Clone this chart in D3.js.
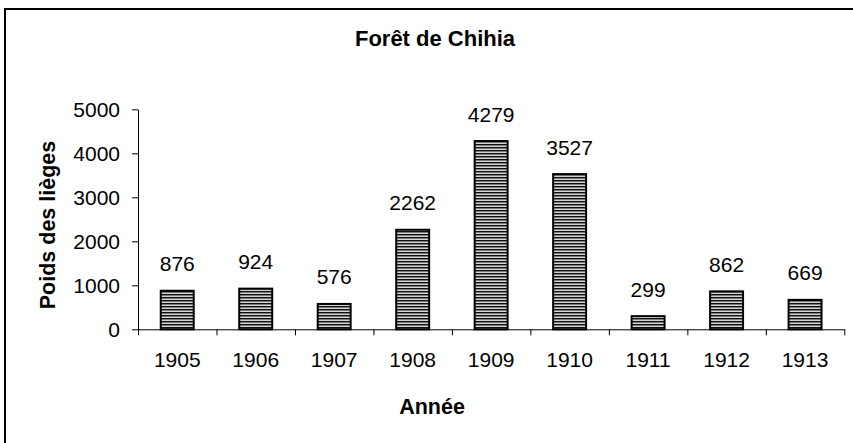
<!DOCTYPE html>
<html>
<head>
<meta charset="utf-8">
<script src="https://cdn.jsdelivr.net/npm/d3@7"></script>
<style>
  html, body { margin: 0; padding: 0; background: #fff; }
  svg { display: block; font-family: "Liberation Sans", Arial, sans-serif; }
</style>
</head>
<body>
<svg id="chart" width="853" height="443"></svg>
<script>
// Weight of cork harvested per year, Chihia forest
const years = ["1905", "1906", "1907", "1908", "1909", "1910", "1911", "1912", "1913"];
const weights = [876, 924, 576, 2262, 4279, 3527, 299, 862, 669];
const yTicks = [0, 1000, 2000, 3000, 4000, 5000];

const titleText = "Forêt de Chihia";
const xTitle = "Année";
const yTitle = "Poids des lièges";

const svg = d3.select("#chart");

// Outer frame (runs off the right and bottom edges)
svg.append("rect")
  .attr("x", 5).attr("y", 9)
  .attr("width", 900).attr("height", 500)
  .attr("fill", "none")
  .attr("stroke", "#000")
  .attr("stroke-width", 2);

// Horizontal hatch fill for the bars
const defs = svg.append("defs");
const pat = defs.append("pattern")
  .attr("id", "hatch")
  .attr("patternUnits", "userSpaceOnUse")
  .attr("width", 4).attr("height", 3);
pat.append("rect").attr("x", 0).attr("y", 0).attr("width", 4).attr("height", 1).attr("fill", "#111");
pat.append("rect").attr("x", 0).attr("y", 1).attr("width", 4).attr("height", 1).attr("fill", "#7a7a7a");
pat.append("rect").attr("x", 0).attr("y", 2).attr("width", 4).attr("height", 1).attr("fill", "#d4d4d4");

const plotLeft = 138, plotRight = 844.3, plotTop = 109.3, plotBottom = 329.3;

const x = d3.scaleBand()
  .domain(years)
  .range([plotLeft, plotRight])
  .paddingInner(0.58)
  .paddingOuter(0.29);

const xEdges = d3.scaleLinear().domain([0, years.length]).range([plotLeft, plotRight]);

const y = d3.scaleLinear().domain([0, 5000]).range([plotBottom, plotTop]);

// Y axis
const yAxis = svg.append("g")
  .attr("transform", `translate(${plotLeft},0)`)
  .call(d3.axisLeft(y).tickValues(yTicks).tickSize(6).tickSizeOuter(0).tickPadding(12).tickFormat(d3.format("d")));
yAxis.select(".domain").attr("stroke", "#000");
yAxis.selectAll(".tick line").attr("stroke", "#000");
yAxis.selectAll(".tick text")
  .attr("font-size", 21)
  .attr("font-family", "Liberation Sans, Arial, sans-serif")
  .attr("fill", "#000");

// X axis: ticks sit between categories
const xAxis = svg.append("g")
  .attr("transform", `translate(0,${plotBottom})`)
  .call(d3.axisBottom(xEdges).tickValues(d3.range(years.length + 1)).tickSize(6).tickSizeOuter(0).tickFormat(""));
xAxis.select(".domain").attr("stroke", "#000");
xAxis.selectAll(".tick line").attr("stroke", "#000");

svg.append("g").selectAll("text")
  .data(years)
  .join("text")
  .attr("x", d => x(d) + x.bandwidth() / 2)
  .attr("y", 366.5)
  .attr("text-anchor", "middle")
  .attr("font-size", 21)
  .attr("fill", "#000")
  .text(d => d);

// Bars
svg.append("g").selectAll("rect")
  .data(weights)
  .join("rect")
  .attr("x", (d, i) => x(years[i]))
  .attr("y", d => y(d))
  .attr("width", x.bandwidth())
  .attr("height", d => y(0) - y(d))
  .attr("fill", "url(#hatch)")
  .attr("stroke", "#000")
  .attr("stroke-width", 2);

// Value labels
svg.append("g").selectAll("text")
  .data(weights)
  .join("text")
  .attr("x", (d, i) => x(years[i]) + x.bandwidth() / 2)
  .attr("y", d => y(d) - 19.5)
  .attr("text-anchor", "middle")
  .attr("font-size", 21)
  .attr("fill", "#000")
  .text(d => d);

// Titles
svg.append("text")
  .attr("x", 435).attr("y", 45.5)
  .attr("text-anchor", "middle")
  .attr("font-size", 22).attr("font-weight", "bold")
  .text(titleText);

svg.append("text")
  .attr("x", 432).attr("y", 413.5)
  .attr("text-anchor", "middle")
  .attr("font-size", 21.5).attr("font-weight", "bold")
  .text(xTitle);

svg.append("text")
  .attr("transform", "translate(54.5,225) rotate(-90)")
  .attr("text-anchor", "middle")
  .attr("font-size", 21.5).attr("font-weight", "bold")
  .text(yTitle);
</script>
</body>
</html>
